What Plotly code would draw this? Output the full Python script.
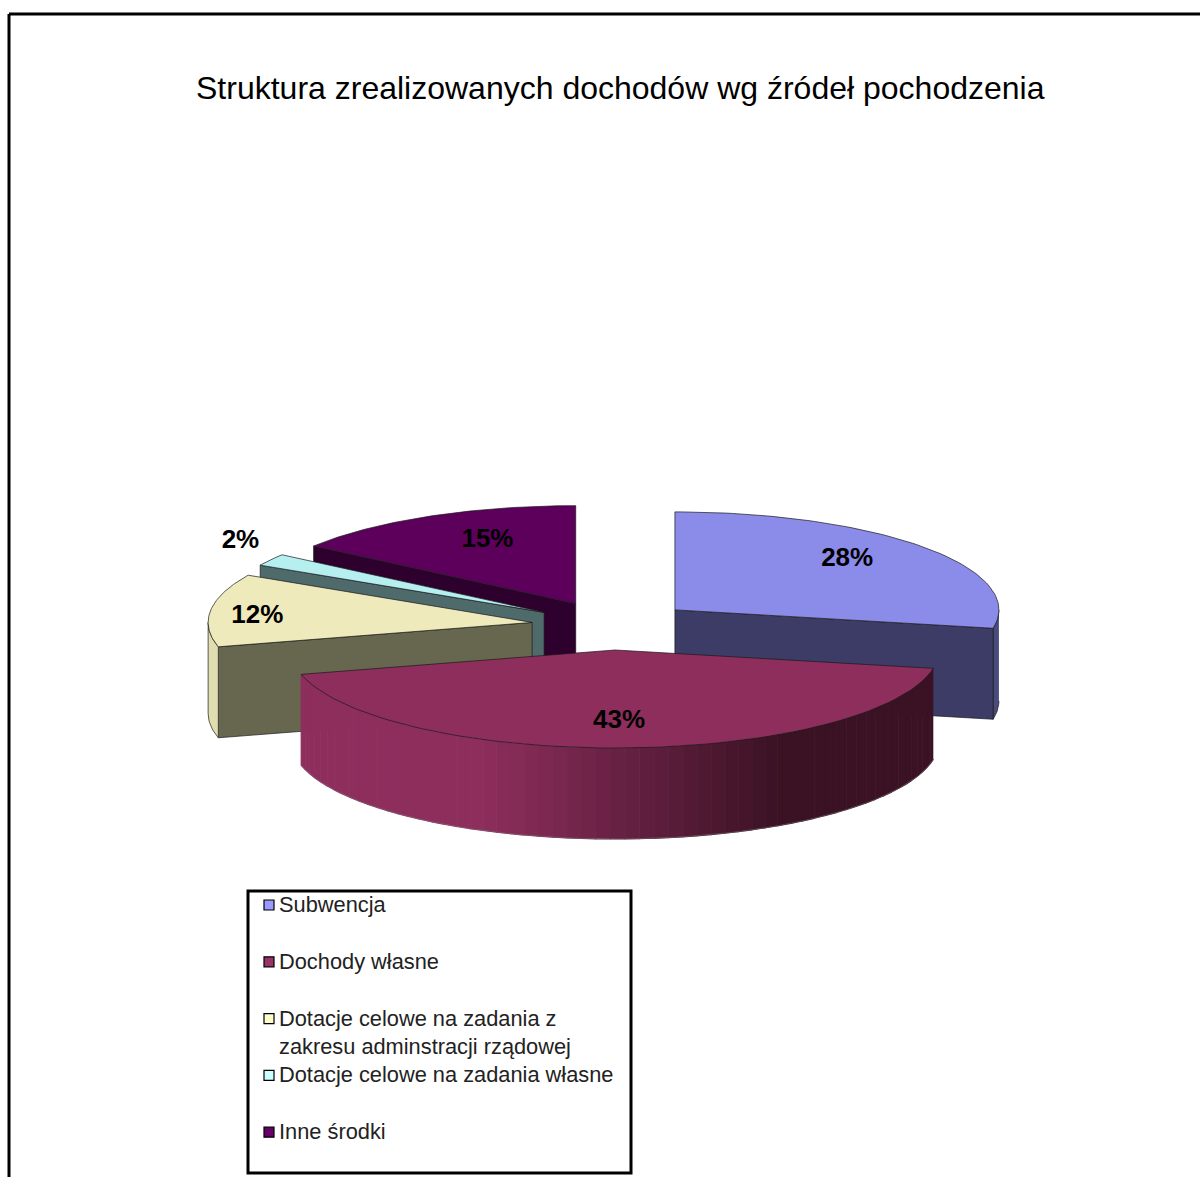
import numpy as np
import plotly.graph_objects as go

title = "Struktura zrealizowanych dochodów wg źródeł pochodzenia"
categories = ["Subwencja", "Dochody własne",
              "Dotacje celowe na zadania z<br>zakresu adminstracji rządowej",
              "Dotacje celowe na zadania własne", "Inne środki"]
values = [28, 43, 12, 2, 15]

top_colors = ["#8b8bea", "#8e2e5d", "#eeeabb", "#b5efef", "#5c005c"]
cut_colors = ["#3c3c66", "#5a1d3b", "#67664f", "#4f6a6a", "#2d002d"]
wall_colors = ["#4a4a7c", "#8e2e5d", "#e0ddb0", "#8fbcbc", "#3d003d"]
legend_colors = ["#9999ff", "#993366", "#ffffcc", "#ccffff", "#660066"]
label_fx = [0.69, 0.0, 0.855, 1.11, 0.60]
label_fy = [0.80, 0.73, 0.46, 1.35, 0.72]

CX, CY, RX, RY, DEPTH, EXPLODE = 612.5, 625.5, 324, 98, 91, 0.25
FONT = "Liberation Sans, Arial, sans-serif"
LINE = "#1a1a1a"

total = sum(values)
edges = np.concatenate([[0], np.cumsum(values)]) / total * 2 * np.pi
fig = go.Figure()


def poly(xs, ys, color, line=LINE, width=0.7):
    fig.add_trace(go.Scatter(x=list(xs), y=list(ys), mode="lines", fill="toself",
                             fillcolor=color, line=dict(color=line, width=width),
                             hoverinfo="skip", showlegend=False))


def arc(ax, ay, a0, a1, n=80):
    t = np.linspace(a0, a1, n)
    return ax + RX * np.sin(t), ay - RY * np.cos(t)


def mix(c0, c1, f):
    a = [int(c0[i:i + 2], 16) for i in (1, 3, 5)]
    b = [int(c1[i:i + 2], 16) for i in (1, 3, 5)]
    return "rgb(%d,%d,%d)" % tuple(round(p + (q - p) * f) for p, q in zip(a, b))


apex = []
for i in range(len(values)):
    m = (edges[i] + edges[i + 1]) / 2
    apex.append((CX + EXPLODE * RX * np.sin(m), CY - EXPLODE * RY * np.cos(m)))

for i in [4, 3, 2, 0, 1]:
    a0, a1 = edges[i], edges[i + 1]
    ax, ay = apex[i]
    xs, ys = arc(ax, ay, a0, a1)
    if i == 1:
        # curved front wall with a horizontal shading gradient
        tt = np.linspace(a0, a1, 61)
        for j in range(60):
            t = np.linspace(tt[j], tt[j + 1], 4)
            wx, wy = ax + RX * np.sin(t), ay - RY * np.cos(t)
            f = np.clip((wx.mean() - (ax - 135)) / 300, 0, 1)
            col = mix(wall_colors[1], "#3a1224", f)
            poly(np.r_[wx, wx[::-1]], np.r_[wy, wy[::-1] + DEPTH], col, line=col, width=1.2)
        fig.add_trace(go.Scatter(x=list(xs), y=list(ys + DEPTH), mode="lines",
                                 line=dict(color="#777777", width=0.5),
                                 hoverinfo="skip", showlegend=False))
    else:
        # radial cut face seen from the front
        edge = a1 if i == 0 else a0
        ex, ey = ax + RX * np.sin(edge), ay - RY * np.cos(edge)
        if i == 0:
            t = np.linspace(np.pi / 2, a1, 12)
            wx, wy = ax + RX * np.sin(t), ay - RY * np.cos(t)
            poly(np.r_[wx, wx[::-1]], np.r_[wy, wy[::-1] + DEPTH], wall_colors[i])
        if i == 2:
            t = np.linspace(a0, 3 * np.pi / 2, 12)
            wx, wy = ax + RX * np.sin(t), ay - RY * np.cos(t)
            poly(np.r_[wx, wx[::-1]], np.r_[wy, wy[::-1] + DEPTH], wall_colors[i])
        poly([ax, ex, ex, ax, ax], [ay, ey, ey + DEPTH, ay + DEPTH, ay], cut_colors[i])
    poly(np.r_[ax, xs, ax], np.r_[ay, ys, ay], top_colors[i])

for i, v in enumerate(values):
    m = (edges[i] + edges[i + 1]) / 2
    ax, ay = apex[i]
    fig.add_trace(go.Scatter(
        x=[ax + label_fx[i] * RX * np.sin(m) if i != 1 else ax + 4],
        y=[ay - label_fy[i] * RY * np.cos(m)],
        mode="text", text=[f"{v}%"], textposition="middle center",
        textfont=dict(family=FONT, size=26, color="#000000", weight="bold"),
        hoverinfo="skip", showlegend=False))

# legend: swatches and labels
LEG_X, LEG_Y0, LEG_STEP = 269, 905, 56.8
fig.add_trace(go.Scatter(
    x=[LEG_X] * len(categories), y=[LEG_Y0 + k * LEG_STEP for k in range(len(categories))],
    mode="markers", marker=dict(symbol="square", size=10, color=legend_colors,
                                line=dict(color="#000000", width=1.2)),
    hoverinfo="skip", showlegend=False))
annotations = [dict(x=620, y=88, xref="x", yref="y", text=title, showarrow=False,
                    xanchor="center", yanchor="middle",
                    font=dict(family=FONT, size=32, color="#000000"))]
for k, c in enumerate(categories):
    annotations.append(dict(x=277, y=LEG_Y0 + k * LEG_STEP - 15, xref="x", yref="y", text=c,
                            showarrow=False, xanchor="left", yanchor="top", align="left",
                            font=dict(family=FONT, size=21.8, color="#222222")))

shapes = [
    dict(type="line", x0=9, x1=9, y0=14, y1=1177, line=dict(color="#000", width=3)),
    dict(type="line", x0=9, x1=1200, y0=14, y1=14, line=dict(color="#000", width=3)),
    dict(type="rect", x0=248, x1=631, y0=891, y1=1173, line=dict(color="#000", width=3)),
]
fig.update_layout(
    width=1200, height=1177, margin=dict(l=0, r=0, t=0, b=0),
    paper_bgcolor="white", plot_bgcolor="white", showlegend=False,
    xaxis=dict(range=[0, 1200], visible=False, fixedrange=True),
    yaxis=dict(range=[1177, 0], visible=False, fixedrange=True),
    annotations=annotations, shapes=shapes,
)
fig.write_html("out.html", config=dict(displayModeBar=False),
               post_script="document.body.style.margin='0';document.documentElement.style.overflow='hidden';")
